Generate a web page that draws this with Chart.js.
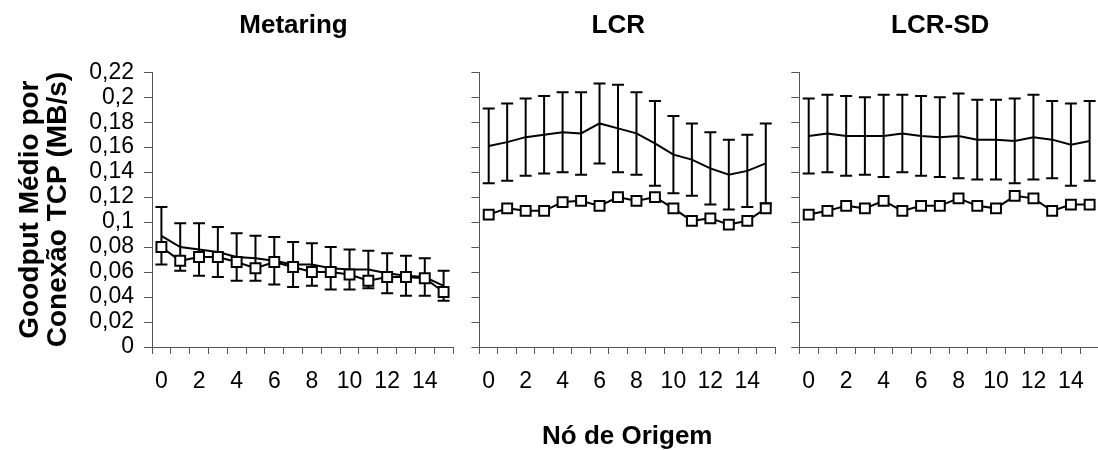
<!DOCTYPE html>
<html>
<head>
<meta charset="utf-8">
<script src="https://cdn.jsdelivr.net/npm/chart.js@4.4.1/dist/chart.umd.min.js"></script>
<style>
  html, body { margin: 0; padding: 0; background: #fff; overflow: hidden; }
  body { width: 1098px; height: 450px; position: relative; }
  .painel { position: absolute; top: 0; }
</style>
</head>
<body>
<div class="painel" style="left:0px"><canvas id="metaring" width="462" height="450"></canvas></div>
<div class="painel" style="left:468px"><canvas id="lcr" width="316" height="450"></canvas></div>
<div class="painel" style="left:788px"><canvas id="lcrsd" width="320" height="450"></canvas></div>
<script>
// nós de origem (eixo x)
const nos = ['0','1','2','3','4','5','6','7','8','9','10','11','12','13','14','15'];
const rotulosY = ['0','0,02','0,04','0,06','0,08','0,1','0,12','0,14','0,16','0,18','0,2','0,22'];

// Metaring
const metaringMedia = [0.089, 0.080, 0.078, 0.076, 0.072, 0.071, 0.069, 0.066, 0.066, 0.063, 0.062, 0.062, 0.059, 0.057, 0.056, 0.049];
const metaringErro  = [0.023, 0.019, 0.021, 0.020, 0.019, 0.018, 0.019, 0.018, 0.017, 0.017, 0.016, 0.015, 0.016, 0.016, 0.015, 0.012];
const metaringQuad  = [0.080, 0.069, 0.072, 0.072, 0.068, 0.063, 0.068, 0.064, 0.060, 0.060, 0.058, 0.053, 0.056, 0.056, 0.055, 0.044];

// LCR
const lcrMedia = [0.161, 0.164, 0.168, 0.170, 0.172, 0.171, 0.179, 0.175, 0.171, 0.163, 0.154, 0.150, 0.143, 0.138, 0.141, 0.147];
const lcrErro  = [0.030, 0.031, 0.031, 0.031, 0.032, 0.033, 0.032, 0.035, 0.033, 0.034, 0.031, 0.029, 0.029, 0.028, 0.029, 0.032];
const lcrQuad  = [0.106, 0.111, 0.109, 0.109, 0.116, 0.117, 0.113, 0.120, 0.117, 0.120, 0.111, 0.101, 0.103, 0.098, 0.101, 0.111];

// LCR-SD
const sdMedia = [0.169, 0.171, 0.169, 0.169, 0.169, 0.171, 0.169, 0.168, 0.169, 0.166, 0.166, 0.165, 0.168, 0.166, 0.162, 0.165];
const sdErro  = [0.030, 0.031, 0.032, 0.031, 0.033, 0.031, 0.032, 0.032, 0.034, 0.032, 0.032, 0.034, 0.034, 0.031, 0.033, 0.032];
const sdQuad  = [0.106, 0.109, 0.113, 0.111, 0.117, 0.109, 0.113, 0.113, 0.119, 0.113, 0.111, 0.121, 0.119, 0.109, 0.114, 0.114];

const fonte = "'Liberation Sans', Arial, sans-serif";
const corEixo = '#555';

// barras de erro desenhadas com as escalas do grafico
const barrasErro = {
  id: 'barrasErro',
  afterDatasetDraw(chart, args) {
    const ds = chart.data.datasets[args.index];
    if (!ds.erro) return;
    const ctx = chart.ctx;
    const xs = chart.scales.x, ys = chart.scales.y;
    ctx.save();
    ctx.strokeStyle = '#000';
    ctx.lineWidth = 2;
    ds.data.forEach((v, i) => {
      const x = xs.getPixelForValue(i);
      const yt = ys.getPixelForValue(v + ds.erro[i]);
      const yb = ys.getPixelForValue(v - ds.erro[i]);
      ctx.beginPath();
      ctx.moveTo(x, yt); ctx.lineTo(x, yb);
      ctx.moveTo(x - 6, yt); ctx.lineTo(x + 6, yt);
      ctx.moveTo(x - 6, yb); ctx.lineTo(x + 6, yb);
      ctx.stroke();
    });
    ctx.restore();
  }
};

// titulo centrado sobre a area do grafico (um pouco a esquerda, como no original)
const tituloNaArea = {
  id: 'tituloNaArea',
  afterLayout(chart) {
    const t = chart.titleBlock;
    if (t) { t.left = chart.chartArea.left - 9; t.right = chart.chartArea.right - 9; }
  }
};

function painel(id, titulo, media, erro, quad, cfg) {
  new Chart(document.getElementById(id), {
    type: 'line',
    data: {
      labels: nos,
      datasets: [{
        data: quad,
        borderColor: '#000',
        borderWidth: 2,
        pointStyle: 'rect',
        pointRadius: 7,
        pointBackgroundColor: '#fff',
        pointBorderColor: '#000',
        pointBorderWidth: 2,
        tension: 0
      }, {
        data: media,
        erro: erro,
        borderColor: '#000',
        borderWidth: 2,
        pointRadius: 0,
        tension: 0
      }]
    },
    options: {
      responsive: false,
      animation: false,
      layout: { padding: { left: 0, right: cfg.direita, top: 0, bottom: 0 } },
      plugins: {
        legend: { display: false },
        tooltip: { enabled: false },
        title: {
          display: true,
          text: titulo,
          color: '#000',
          font: { family: fonte, size: 26, weight: 'bold', lineHeight: 1.2 },
          padding: { top: 10, bottom: 31 }
        }
      },
      scales: {
        x: {
          offset: true,
          grid: { offset: true, drawOnChartArea: false, color: corEixo, tickLength: 7, tickWidth: 1 },
          border: { color: corEixo, width: 1 },
          ticks: {
            autoSkip: false, maxRotation: 0, color: '#000', padding: 14,
            font: { family: fonte, size: 23 },
            callback: (v, i) => i % 2 === 0 ? nos[i] : ''
          },
          title: {
            display: cfg.tituloX,
            text: 'Nó de Origem',
            color: '#000',
            font: { family: fonte, size: 26, weight: 'bold', lineHeight: 1.0 },
            padding: { top: 0, bottom: 0 }
          },
          afterFit: s => { s.height = 103; }
        },
        y: {
          min: 0, max: 0.22,
          grid: { drawOnChartArea: false, color: corEixo, tickLength: 8, tickWidth: 1 },
          border: { color: corEixo, width: 1 },
          ticks: {
            stepSize: 0.02, autoSkip: false, display: cfg.rotulosY, color: '#000', padding: 10,
            font: { family: fonte, size: 23 },
            callback: (v, i) => rotulosY[i]
          },
          title: {
            display: cfg.rotulosY,
            text: ['Goodput Médio por', 'Conexão TCP (MB/s)'],
            color: '#000',
            font: { family: fonte, size: 28, weight: 'bold', lineHeight: 1.0 },
            padding: { top: 16, bottom: 0 }
          },
          afterFit: s => { s.width = cfg.larguraY; }
        }
      }
    },
    plugins: [barrasErro, tituloNaArea]
  });
}

painel('metaring', 'Metaring', metaringMedia, metaringErro, metaringQuad, { direita: 5, larguraY: 152, rotulosY: true, tituloX: false });
painel('lcr', 'LCR', lcrMedia, lcrErro, lcrQuad, { direita: 6, larguraY: 10, rotulosY: false, tituloX: true });
painel('lcrsd', 'LCR-SD', sdMedia, sdErro, sdQuad, { direita: 7, larguraY: 10, rotulosY: false, tituloX: false });
</script>
</body>
</html>
